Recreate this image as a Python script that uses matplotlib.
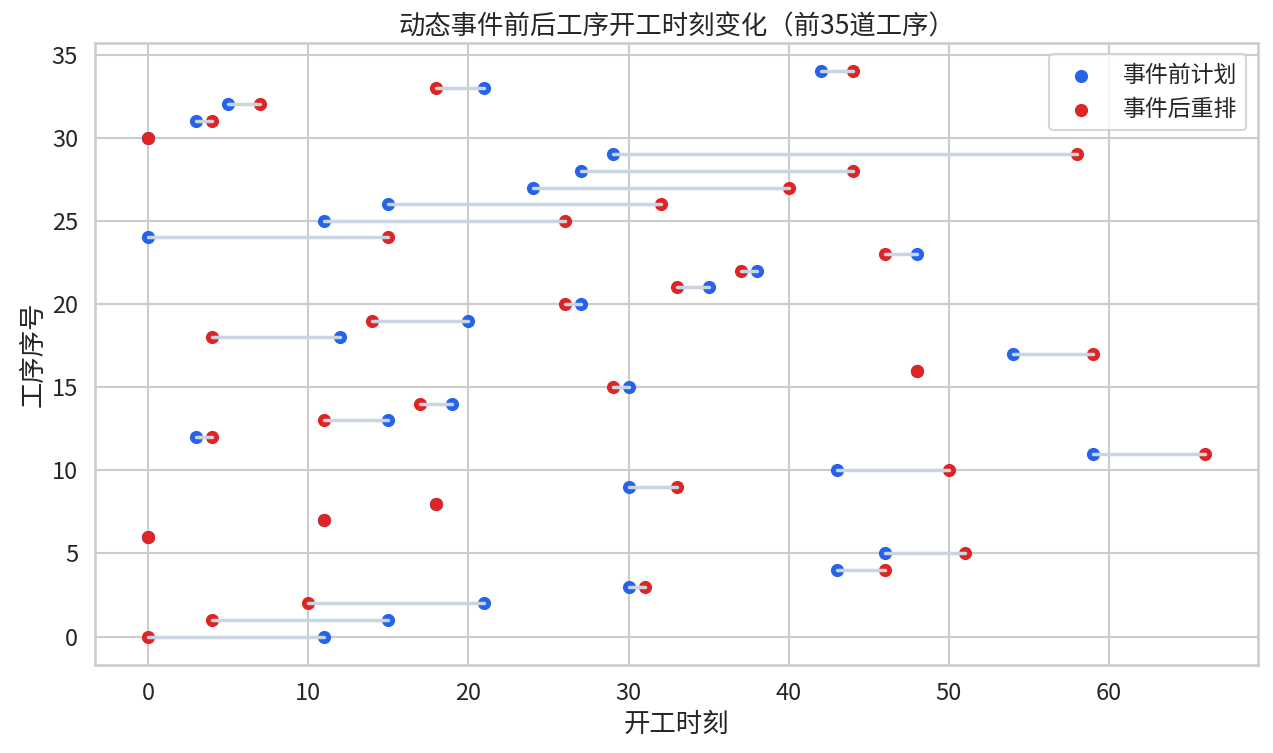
import matplotlib
matplotlib.use("Agg")
import matplotlib.pyplot as plt
import seaborn as sns

# 工序序号 0..34, 事件前/后 开工时刻
ops = list(range(35))
before = [11, 15, 21, 30, 43, 46, 0, 11, 18, 30,
          43, 59, 3, 15, 19, 30, 48, 54, 12, 20,
          27, 35, 38, 48, 0, 11, 15, 24, 27, 29,
          0, 3, 5, 21, 42]
after = [0, 4, 10, 31, 46, 51, 0, 11, 18, 33,
         50, 66, 4, 11, 17, 29, 48, 59, 4, 14,
         26, 33, 37, 46, 15, 26, 32, 40, 44, 58,
         0, 4, 7, 18, 44]

sns.set_theme(style="whitegrid", context="talk")
plt.rcParams['font.family'] = ['Noto Sans CJK SC', 'DejaVu Sans']
plt.rcParams['axes.unicode_minus'] = False

fig, ax = plt.subplots(figsize=(12.73, 7.53), dpi=100)

ax.scatter(before, ops, color="#2563eb", s=90, label="事件前计划", zorder=1, linewidths=0)
ax.scatter(after, ops, color="#dc2626", s=90, label="事件后重排", zorder=1, linewidths=0)
for y, b, a in zip(ops, before, after):
    ax.plot([b, a], [y, y], color="#cbd5e1", lw=2.5, zorder=2)

ax.set_xlabel("开工时刻", fontsize=19)
ax.set_ylabel("工序序号", fontsize=19)
ax.set_title("动态事件前后工序开工时刻变化（前35道工序）", fontsize=19)
ax.tick_params(labelsize=17)
ax.legend(loc="upper right", fontsize=16.5)

fig.subplots_adjust(left=0.075, right=0.988, top=0.943, bottom=0.117)
fig.savefig("out.png", dpi=100)
